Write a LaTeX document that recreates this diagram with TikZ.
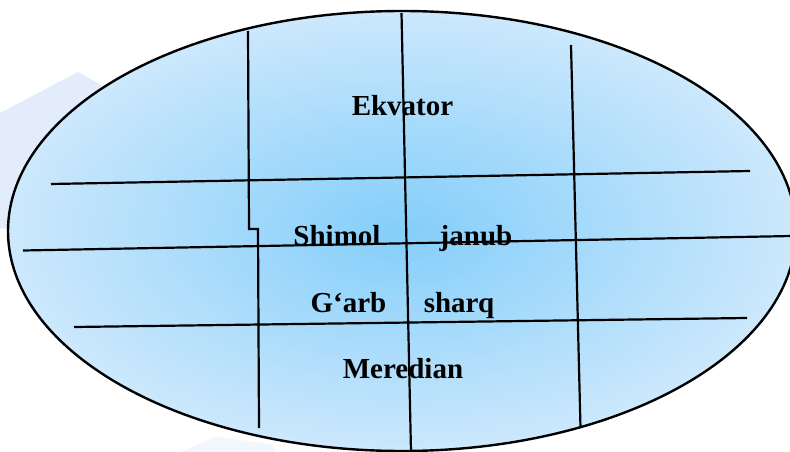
\documentclass[tikz,border=0pt]{standalone}
\usepackage{fontspec}
\setmainfont{Liberation Serif}
\definecolor{skyin}{RGB}{132,206,250}
\definecolor{skyout}{RGB}{204,232,252}
\definecolor{faintbg}{RGB}{226,236,251}
\definecolor{faintbg2}{RGB}{242,247,253}
\tikzset{
  gridline/.style={line width=2.2pt, black, line cap=butt, line join=miter},
  lbl/.style={anchor=base, inner sep=0pt, font=\fontsize{29}{34}\selectfont\bfseries}
}
\begin{document}
\begin{tikzpicture}[x=1pt,y=-1pt]
\useasboundingbox (0,0) rectangle (790,452);
% faint background shapes
\fill[faintbg] (0,113) -- (78,72) -- (200,140) -- (200,260) -- (0,228) -- cycle;
\fill[faintbg2] (180,452) -- (215,437) -- (272,444) -- (276,452) -- cycle;
% globe
\shade[inner color=skyin, outer color=skyout, draw=black, line width=2.4pt]
  (402,231) ellipse [x radius=394, y radius=220];
% labels
\node[lbl] (ekv) at (402.5,115) {Ekvator};
\node[lbl] (shi) at (337,245) {Shimol};
\node[lbl] (jan) at (476,245) {janub};
\node[lbl] (gar) at (348.5,312) {G‘arb};
\node[lbl] (sha) at (459,312) {sharq};
\node[lbl] (mer) at (403,378) {Meredian};
% grid coordinates
\coordinate (v1a) at (248,31);
\coordinate (v1b) at (249,229);
\coordinate (v1c) at (258,229);
\coordinate (v1d) at (259,428);
\coordinate (v2a) at (401.5,13);
\coordinate (v2b) at (411,452);
\coordinate (v3a) at (571,45);
\coordinate (v3b) at (580.5,428);
\coordinate (h1a) at (51,184);
\coordinate (h1b) at (750,171);
\coordinate (h2a) at (23,250.5);
\coordinate (h2b) at (792,236);
\coordinate (h3a) at (74,327);
\coordinate (h3b) at (747,318);
% grid lines
\draw[gridline] (v1a) -- (v1b) -- (v1c) -- (v1d);
\draw[gridline] (v2a) -- (v2b);
\draw[gridline] (v3a) -- (v3b);
\draw[gridline] (h1a) -- (h1b);
\draw[gridline] (h2a) -- (h2b);
\draw[gridline] (h3a) -- (h3b);
\end{tikzpicture}
\end{document}
